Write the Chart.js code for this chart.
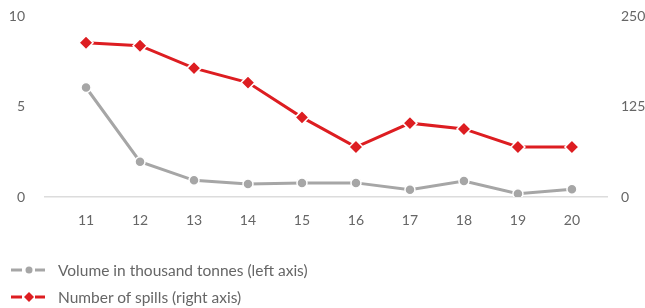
<!DOCTYPE html>
<html>
<head>
<meta charset="utf-8">
<script src="https://cdn.jsdelivr.net/npm/chart.js@4/dist/chart.umd.min.js"></script>
<style>
  html, body { margin: 0; padding: 0; background: #fff; }
  .wrap { position: relative; width: 645px; height: 308px; }
  canvas { display: block; }
  .legend { position: absolute; left: 10px; top: 0; font-family: Lato, 'Open Sans', sans-serif; font-size: 15.5px; color: #666; }
  .legend .row { position: absolute; left: 0; white-space: nowrap; height: 20px; line-height: 20px; }
  .legend svg { position: absolute; left: 0; top: 4px; }
  .legend span { position: absolute; left: 48px; }
</style>
</head>
<body>
<div class="wrap">
  <canvas id="spills" width="645" height="308"></canvas>
  <div class="legend">
    <div class="row" style="top:260px">
      <svg width="36" height="12"><line x1="1" y1="6" x2="12" y2="6" stroke="#a6a6a6" stroke-width="3"/><circle cx="19" cy="6" r="3.5" fill="#a6a6a6"/><line x1="25" y1="6" x2="35" y2="6" stroke="#a6a6a6" stroke-width="3"/></svg>
      <span>Volume in thousand tonnes (left axis)</span>
    </div>
    <div class="row" style="top:287px">
      <svg width="36" height="12"><line x1="1" y1="6" x2="12" y2="6" stroke="#dd1d21" stroke-width="3"/><polygon points="19,1 24,6 19,11 14,6" fill="#dd1d21"/><line x1="25" y1="6" x2="35" y2="6" stroke="#dd1d21" stroke-width="3"/></svg>
      <span>Number of spills (right axis)</span>
    </div>
  </div>
</div>
<script>
// years (20xx)
const categories = [11, 12, 13, 14, 15, 16, 17, 18, 19, 20];
const volume = [6.05, 1.95, 0.92, 0.72, 0.78, 0.78, 0.4, 0.88, 0.18, 0.43];
const spills = [213, 209, 178, 158, 110, 69, 102, 94, 69, 69];
const leftTicks = [0, 5, 10];
const rightTicks = [0, 125, 250];

const RED = '#dd1d21';
const GRAY = '#a6a6a6';
const tickFont = { family: "Lato, 'Open Sans', sans-serif", size: 14 };

const toPoints = vals => vals.map((v, i) => ({ x: categories[i], y: v }));

// fixed axis width, and don't let tick padding push the plot area down
const fixWidth = w => s => { s.width = w; s.paddingTop = 0; s.paddingBottom = 0; };

new Chart(document.getElementById('spills'), {
  type: 'line',
  data: {
    datasets: [
      {
        label: 'Volume in thousand tonnes (left axis)',
        data: toPoints(volume),
        yAxisID: 'yL',
        borderColor: GRAY,
        backgroundColor: GRAY,
        borderWidth: 3,
        pointStyle: 'circle',
        pointRadius: 5,
        pointBorderColor: '#fff',
        pointBorderWidth: 1.5,
        tension: 0
      },
      {
        label: 'Number of spills (right axis)',
        data: toPoints(spills),
        yAxisID: 'yR',
        borderColor: RED,
        backgroundColor: RED,
        borderWidth: 3,
        pointStyle: 'rectRot',
        pointRadius: 7,
        pointBorderColor: '#fff',
        pointBorderWidth: 1.5,
        tension: 0
      }
    ]
  },
  options: {
    responsive: false,
    animation: false,
    layout: { padding: { top: 16, bottom: 0, left: 0, right: 0 } },
    plugins: { legend: { display: false }, tooltip: { enabled: false } },
    scales: {
      x: {
        type: 'linear',
        min: 10.24,
        max: 20.65,
        afterBuildTicks: s => { s.ticks = categories.map(v => ({ value: v })); },
        afterFit: s => { s.height = 111; },
        grid: { display: false, drawTicks: false },
        border: { display: true, color: '#dcdcdc', width: 1.5 },
        ticks: { color: '#666', font: tickFont, padding: 15, autoSkip: false, maxRotation: 0 }
      },
      yL: {
        position: 'left',
        min: 0, max: 10,
        afterBuildTicks: s => { s.ticks = leftTicks.map(v => ({ value: v })); },
        afterFit: fixWidth(45),
        grid: { display: false, drawTicks: false },
        border: { display: false },
        ticks: { color: '#666', font: tickFont, padding: 20 }
      },
      yR: {
        position: 'right',
        min: 0, max: 250,
        afterBuildTicks: s => { s.ticks = rightTicks.map(v => ({ value: v })); },
        afterFit: fixWidth(38),
        grid: { display: false, drawTicks: false },
        border: { display: false },
        ticks: { color: '#666', font: tickFont, padding: 14 }
      }
    }
  }
});
</script>
</body>
</html>
